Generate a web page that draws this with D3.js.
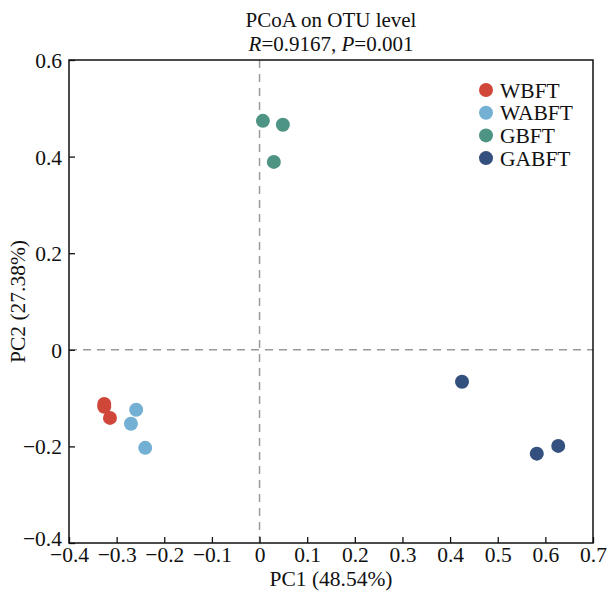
<!DOCTYPE html>
<html>
<head>
<meta charset="utf-8">
<script src="https://cdn.jsdelivr.net/npm/d3@7"></script>
<style>
  body { margin: 0; background: #fff; }
  svg text { font-family: "Liberation Serif", "Times New Roman", serif; fill: #111; }
</style>
</head>
<body>
<svg id="chart" width="609" height="594"></svg>
<script>
// data
var groups = ['WBFT', 'WABFT', 'GBFT', 'GABFT'];
var groupColors = ['#d0473a', '#74b0d4', '#4e9484', '#34507e'];
var sampleGroup = ['WBFT','WBFT','WBFT','WABFT','WABFT','WABFT','GBFT','GBFT','GBFT','GABFT','GABFT','GABFT'];
var pc1 = [-0.326, -0.326, -0.314, -0.259, -0.270, -0.240, 0.007, 0.049, 0.030, 0.425, 0.582, 0.627];
var pc2 = [-0.112, -0.118, -0.141, -0.124, -0.153, -0.203, 0.474, 0.466, 0.389, -0.066, -0.215, -0.199];
var xTicks = [-0.4, -0.3, -0.2, -0.1, 0, 0.1, 0.2, 0.3, 0.4, 0.5, 0.6, 0.7];
var yTicks = [-0.4, -0.2, 0, 0.2, 0.4, 0.6];

var margin = {left: 69, top: 60, right: 16, bottom: 51};
var W = 609, H = 594;
var fs = '21.5px';
var svg = d3.select('#chart');

var x = d3.scaleLinear().domain([-0.4, 0.7]).range([margin.left, W - margin.right]);
var y = d3.scaleLinear().domain([-0.4, 0.6]).range([H - margin.bottom, margin.top]);
var color = d3.scaleOrdinal().domain(groups).range(groupColors);

function fmt(d) { return d === 0 ? '0' : d3.format('.1f')(d); }

// zero lines
svg.append('line')
	.attr('x1', x(0)).attr('x2', x(0))
	.attr('y1', y(0.6)).attr('y2', y(-0.4))
	.attr('stroke', '#9a9a9a').attr('stroke-width', 1.5).attr('stroke-dasharray', '8,6');
svg.append('line')
	.attr('x1', x(-0.4)).attr('x2', x(0.7))
	.attr('y1', y(0)).attr('y2', y(0))
	.attr('stroke', '#9a9a9a').attr('stroke-width', 1.5).attr('stroke-dasharray', '8,6');

// axes, ticks pointing inwards
var xAxis = svg.append('g')
	.attr('transform', 'translate(0,' + y(-0.4) + ')')
	.call(d3.axisBottom(x).tickValues(xTicks).tickFormat(fmt).tickSizeInner(-6).tickSizeOuter(0).tickPadding(4));
var yAxis = svg.append('g')
	.attr('transform', 'translate(' + x(-0.4) + ',0)')
	.call(d3.axisLeft(y).tickValues(yTicks).tickFormat(fmt).tickSizeInner(-6).tickSizeOuter(0).tickPadding(7));

[xAxis, yAxis].forEach(function(a) {
	a.select('.domain').remove();
	a.selectAll('line').attr('stroke', '#111').attr('stroke-width', 1.3);
	a.selectAll('text').style('font-size', fs).attr('fill', '#111');
});
yAxis.selectAll('text').attr('dy', '0.35em');
// lowest y label sits a bit higher so it clears the x labels
yAxis.selectAll('text').filter(function(d) { return d === -0.4; }).attr('dy', '0.1em');

// frame
svg.append('rect')
	.attr('x', x(-0.4)).attr('y', y(0.6))
	.attr('width', x(0.7) - x(-0.4)).attr('height', y(-0.4) - y(0.6))
	.attr('fill', 'none').attr('stroke', '#111').attr('stroke-width', 1.5);

// points
svg.append('g').selectAll('circle')
	.data(pc1)
	.enter().append('circle')
	.attr('cx', function(d) { return x(d); })
	.attr('cy', function(d, i) { return y(pc2[i]); })
	.attr('r', 7)
	.attr('fill', function(d, i) { return color(sampleGroup[i]); });

// legend
var legend = svg.append('g').selectAll('.legend')
	.data(groups)
	.enter().append('g')
	.attr('class', 'legend')
	.attr('transform', function(d, i) { return 'translate(486,' + (90 + i * 22.7) + ')'; });
legend.append('circle').attr('r', 7).attr('fill', function(d) { return color(d); });
legend.append('text')
	.attr('x', 14).attr('dy', '0.35em')
	.style('font-size', fs)
	.text(function(d) { return d; });

// titles
var cx = (x(-0.4) + x(0.7)) / 2;
svg.append('text').attr('x', cx).attr('y', 27)
	.attr('text-anchor', 'middle').style('font-size', '21px')
	.text('PCoA on OTU level');
var sub = svg.append('text').attr('x', cx).attr('y', 51)
	.attr('text-anchor', 'middle').style('font-size', '21px');
sub.append('tspan').style('font-style', 'italic').text('R');
sub.append('tspan').text('=0.9167, ');
sub.append('tspan').style('font-style', 'italic').text('P');
sub.append('tspan').text('=0.001');

svg.append('text').attr('x', cx).attr('y', 586)
	.attr('text-anchor', 'middle').style('font-size', fs)
	.text('PC1 (48.54%)');
svg.append('text')
	.attr('transform', 'translate(25,' + ((y(0.6) + y(-0.4)) / 2) + ') rotate(-90)')
	.attr('text-anchor', 'middle').style('font-size', fs)
	.text('PC2 (27.38%)');
</script>
</body>
</html>
